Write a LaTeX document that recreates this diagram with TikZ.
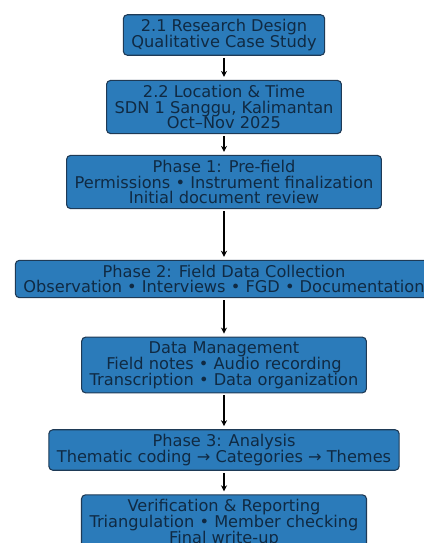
\documentclass[tikz,border=0pt]{standalone}
\usepackage{fontspec}
\setmainfont{DejaVu Sans}
\usetikzlibrary{arrows.meta}
\definecolor{boxfill}{HTML}{2B7BBA}
\definecolor{boxline}{HTML}{1E3A56}
\definecolor{boxtext}{HTML}{102A43}
\begin{document}
\begin{tikzpicture}
[x=1pt,y=-1pt,
  stagebox/.style={shape=rectangle,rounded corners=4pt,draw=boxline,fill=boxfill,
    line width=1.1pt,text=boxtext,align=center,inner xsep=8pt,inner ysep=4.5pt,
    font=\fontsize{16.2}{15.8}\selectfont},%
  stagelink/.style={-{Stealth[length=6pt,width=6pt]},line width=1.2pt,
    shorten <=2pt,shorten >=3pt}]
\useasboundingbox (0,0) rectangle (423,543);
%% nodes or stages
\foreach \nodename/\y/\txt in {design/35/{2.1 Research Design\\Qualitative Case Study},
  place/107/{2.2 Location \& Time\\SDN 1 Sanggu, Kalimantan\\Oct–Nov 2025},
  prefield/182/{Phase 1: Pre-field\\Permissions • Instrument finalization\\Initial document review},
  field/279/{Phase 2: Field Data Collection\\Observation • Interviews • FGD • Documentation},
  manage/365/{Data Management\\Field notes • Audio recording\\Transcription • Data organization},
  analysis/450/{Phase 3: Analysis\\Thematic coding → Categories → Themes},
  report/523/{Verification \& Reporting\\Triangulation • Member checking\\Final write-up}} {
  \node (\nodename) at (224,\y) [stagebox] {\txt};
}
%% arrows between stages
\path
\foreach \startnode/\endnode in {design/place, place/prefield, prefield/field,
  field/manage, manage/analysis, analysis/report} {
  (\startnode) edge[stagelink] (\endnode)
};
\end{tikzpicture}
\end{document}
